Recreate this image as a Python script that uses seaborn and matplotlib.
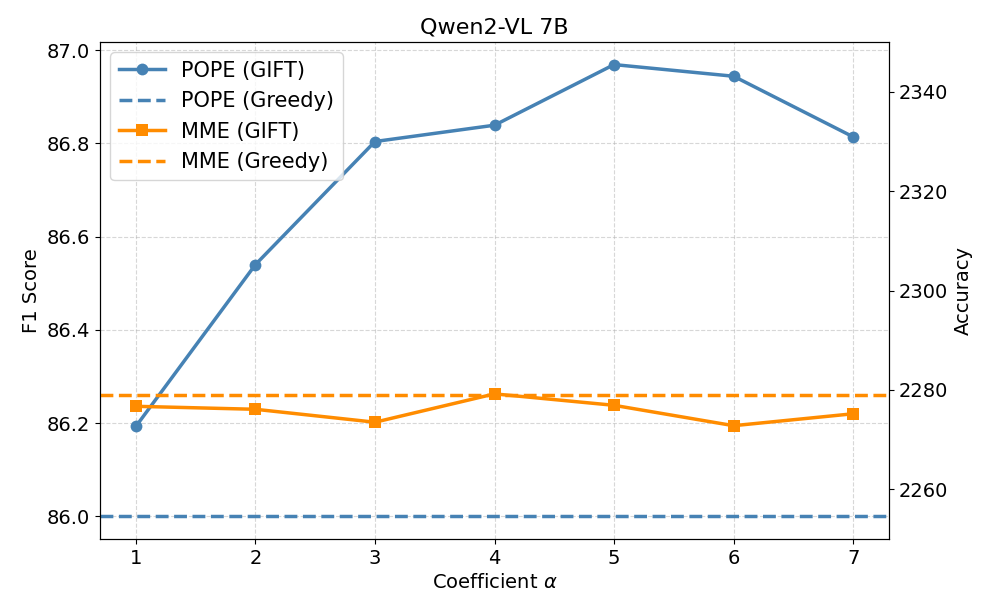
import matplotlib
matplotlib.use('Agg')
import matplotlib.pyplot as plt
import seaborn as sns
import pandas as pd

# values
alphas = [1, 2, 3, 4, 5, 6, 7]
pope_gift = [86.193, 86.540, 86.804, 86.839, 86.969, 86.944, 86.814]
pope_greedy = 86.0
mme_gift = [2276.7, 2276.1, 2273.5, 2279.2, 2276.9, 2272.8, 2275.2]
mme_greedy = 2278.9

pope_color = 'steelblue'
mme_color = 'darkorange'

df = pd.DataFrame({'alpha': alphas, 'pope': pope_gift, 'mme': mme_gift})

fig, ax1 = plt.subplots(figsize=(9.97, 6.13), dpi=100)
fig.subplots_adjust(left=0.1003, right=0.8917, top=0.9315, bottom=0.1207)

sns.lineplot(data=df, x='alpha', y='pope', ax=ax1, color=pope_color, marker='o',
             markersize=8.5, markeredgewidth=0, linewidth=2.5, label='POPE (GIFT)', legend=False)
ax1.axhline(pope_greedy, color=pope_color, linestyle='--', linewidth=2.5, label='POPE (Greedy)')
ax1.set_xlabel(r'Coefficient $\alpha$', fontsize=14)
ax1.set_ylabel('F1 Score', fontsize=14)
ax1.tick_params(labelsize=14)
ax1.set_xticks(alphas)
ax1.grid(True, linestyle='--', alpha=0.5)

ax2 = ax1.twinx()
sns.lineplot(data=df, x='alpha', y='mme', ax=ax2, color=mme_color, marker='s',
             markersize=8.5, markeredgewidth=0, linewidth=2.5, label='MME (GIFT)', legend=False)
ax2.axhline(mme_greedy, color=mme_color, linestyle='--', linewidth=2.5, label='MME (Greedy)')
ax2.set_ylim(2250, 2350)
ax2.set_ylabel('Accuracy', fontsize=14)
ax2.tick_params(labelsize=14)

ax1.set_title('Qwen2-VL 7B', fontsize=16)

h1, lab1 = ax1.get_legend_handles_labels()
h2, lab2 = ax2.get_legend_handles_labels()
ax2.legend(h1 + h2, lab1 + lab2, loc='upper left', fontsize=15, handlelength=2.2)

plt.savefig('out.png', dpi=100)
